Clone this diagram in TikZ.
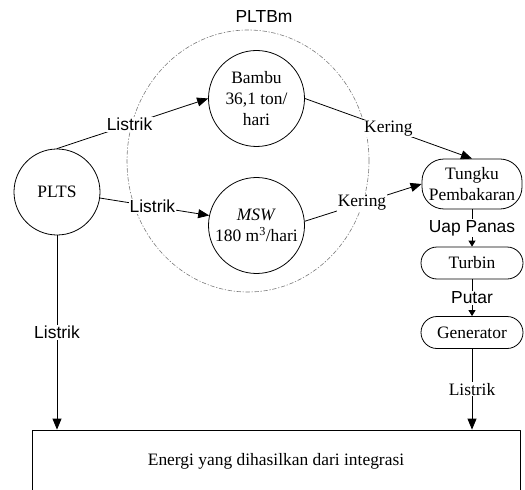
\documentclass[tikz,border=0pt]{standalone}
\usepackage{fontspec}
\setmainfont{Liberation Serif}
\setsansfont{Liberation Sans}
\usepackage{tikz}
\definecolor{ink}{HTML}{000000}
\definecolor{ringline}{HTML}{7A7A7A}
\usetikzlibrary{
  arrows.meta,
  positioning,
  calc
}
\tikzset{
  >={Triangle[length=11bp,width=9bp]},
  every picture/.style={line cap=round, line join=round},
  every node/.style={font=\fontsize{17.5}{21.5}\selectfont, text=ink},
  station/.style={
    circle,
    draw=ink,
    line width=0.8pt,
    minimum size=86bp,
    inner sep=0pt,
    align=center
  },
  stock/.style={station, minimum size=96bp},
  stage/.style={draw=ink, rounded corners=16bp, line width=0.8pt, align=center, minimum width=102bp, minimum height=32bp, inner sep=1pt},
  outbox/.style={draw=ink, line width=0.8pt, minimum width=488bp, minimum height=62bp, inner sep=0pt},
  flow/.style={->, line width=0.8pt, draw=ink},
  smallflow/.style={-{Triangle[length=6bp,width=7bp]}, line width=0.8pt, draw=ink},
  tag/.style={fill=white, inner sep=1pt, font=\sffamily\fontsize{17.5}{20}\selectfont},
  tagrm/.style={tag, font=\rmfamily\fontsize{17.5}{20}\selectfont},
  ring/.style={draw=ringline, line width=0.6pt, dash pattern=on 4pt off 2pt on 1pt off 2pt}
}

\begin{document}
\begin{tikzpicture}[x=1bp, y=-1bp]
  \useasboundingbox (0,0) rectangle (525,490);

  % PLTBm boundary
  \draw[ring] (248,161) ellipse [x radius=121bp, y radius=131bp];
  \node[font=\sffamily\fontsize{17.5}{20}\selectfont] (pltbm) at (264,17) {PLTBm};

  % Sources
  \node[station] (plts) at (57,192) {PLTS};
  \node[stock] (bambu) at (256.5,98.5) {Bambu\\36,1 ton/\\hari};
  \node[stock] (msw) at (256.5,225.5) {\textit{MSW}\\180 m\textsuperscript{3}/hari};

  % Steam chain
  \node[stage, minimum height=50bp, minimum width=100bp, rounded corners=22bp] (tungku) at (472,184) {Tungku\\Pembakaran};
  \node[stage] (turbin) at (472,263) {Turbin};
  \node[stage] (gen) at (472,332.5) {Generator};

  % Output
  \node[outbox] (hasil) at (276,461) {Energi yang dihasilkan dari integrasi};

  % Flows
  \draw[flow] (plts.north) -- node[tag, pos=0.48] {Listrik} (bambu.west);
  \draw[flow] (plts.-8) -- node[tag, pos=0.48] {Listrik} (msw.168);
  \draw[flow] (bambu.east) -- node[tagrm, pos=0.5] {Kering} (tungku.north);
  \draw[flow] (msw.5) -- node[tagrm, pos=0.49] {Kering} (tungku.west);
  \draw[smallflow] (tungku.south) -- node[tag] {Uap Panas} (turbin.north);
  \draw[smallflow] (turbin.south) -- node[tag] {Putar} (gen.north);
  \draw[flow] (gen.south) -- node[tagrm] {Listrik} (gen.south |- hasil.north);
  \draw[flow] (plts.south) -- node[tag] {Listrik} (plts.south |- hasil.north);
\end{tikzpicture}
\end{document}
